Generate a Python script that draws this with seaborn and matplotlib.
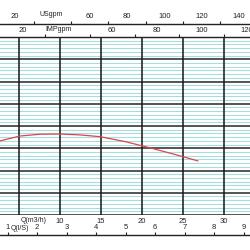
import matplotlib
matplotlib.use("Agg")
import matplotlib.pyplot as plt
import seaborn as sns
import pandas as pd
from matplotlib.ticker import FixedLocator, MultipleLocator, FixedFormatter

# ---- data ----
flow_m3h = [2.68, 5.12, 7.56, 10.0, 12.44, 14.88, 17.93, 20.98, 24.02, 26.83]
head = [3.33, 3.55, 3.63, 3.64, 3.60, 3.52, 3.30, 3.02, 2.72, 2.43]

m3h_ticks = [5, 10, 15, 20, 25, 30]
m3h_labels = ["", "10", "15", "20", "25", "30"]
ls_ticks = [1, 2, 3, 4, 5, 6, 7, 8, 9]
ls_labels = ["1", "2", "3", "4", "5", "6", "7", "8", "9"]
us_major = [20, 40, 60, 80, 100, 120, 140]
us_labels = ["20", "", "60", "80", "100", "120", "140"]
us_minor = [30, 50, 70, 90, 110, 130]
imp_major = [20, 40, 60, 80, 100, 120]
imp_labels = ["20", "", "60", "80", "100", "120"]
imp_minor = [30, 50, 70, 90, 110]

US_PER_M3H = 4.403
IMP_PER_M3H = 3.666
M3H_PER_LS = 3.6

sns.set_style("white")
plt.rcParams["font.family"] = ["Liberation Sans", "DejaVu Sans"]

W = H = 250
fig = plt.figure(figsize=(2.5, 2.5), dpi=100)
top_px, bot_px = 37, 215
ax = fig.add_axes([0, (H - bot_px) / H, 1, (bot_px - top_px) / H])

df = pd.DataFrame({"Q": flow_m3h, "H": head})
sns.lineplot(data=df, x="Q", y="H", ax=ax, color="#d9464a", lw=0.9, zorder=5)

px_per = 8.2
x0 = 22 / px_per
ax.set_xlim(x0, x0 + W / px_per)
ax.set_ylim(0, 8)
ax.set_xlabel("")
ax.set_ylabel("")

# grid
ax.yaxis.set_major_locator(MultipleLocator(1))
ax.yaxis.set_minor_locator(MultipleLocator(1 / 6))
ax.xaxis.set_major_locator(FixedLocator(m3h_ticks))
ax.xaxis.set_major_formatter(FixedFormatter(m3h_labels))
ax.grid(which="minor", axis="y", color="#a9dcdc", lw=0.8, ls="-")
ax.grid(which="major", axis="y", color="#262626", lw=1.1, ls="-")
ax.grid(which="major", axis="x", color="#161616", lw=1.1, ls="-")
ax.tick_params(axis="y", which="both", left=False, labelleft=False)
ax.tick_params(axis="x", which="major", length=0, pad=2, labelsize=5.5,
               colors="#222222")
for s in ["left", "right", "bottom"]:
    ax.spines[s].set_visible(False)
ax.spines["top"].set_color("#222222")
ax.spines["top"].set_linewidth(1.0)
ax.set_axisbelow(True)
ax.yaxis.set_zorder(0.5)
ax.xaxis.set_zorder(0.7)

span = bot_px - top_px

# IMPgpm axis (top of grid)
imp = ax.secondary_xaxis("top", functions=(lambda q: q * IMP_PER_M3H,
                                            lambda g: g / IMP_PER_M3H))
imp.xaxis.set_major_locator(FixedLocator(imp_major))
imp.xaxis.set_major_formatter(FixedFormatter(imp_labels))
imp.xaxis.set_minor_locator(FixedLocator(imp_minor))
imp.tick_params(which="major", length=0, pad=2.5, labelsize=5.5, colors="#222222")
imp.tick_params(which="minor", length=2.3, width=0.8, direction="out", colors="#222222")
imp.spines["top"].set_visible(False)

# USgpm axis
us = ax.secondary_xaxis((bot_px - 24) / span,
                        functions=(lambda q: q * US_PER_M3H,
                                   lambda g: g / US_PER_M3H))
us.xaxis.set_major_locator(FixedLocator(us_major))
us.xaxis.set_major_formatter(FixedFormatter(us_labels))
us.xaxis.set_minor_locator(FixedLocator(us_minor))
us.tick_params(which="major", length=0, pad=3, labelsize=5.5, colors="#222222")
us.tick_params(which="minor", length=2.3, width=0.8, direction="out", colors="#222222")
us.spines["top"].set_linewidth(1.0)
us.spines["top"].set_color("#222222")

# Q (l/s) axis
ls = ax.secondary_xaxis((bot_px - 235) / span,
                        functions=(lambda q: q / M3H_PER_LS,
                                   lambda v: v * M3H_PER_LS))
ls.set_alignment("top")
ls.xaxis.set_major_locator(FixedLocator(ls_ticks))
ls.xaxis.set_major_formatter(FixedFormatter(ls_labels))
ls.tick_params(which="major", length=2.3, width=0.8, pad=0.8, direction="out",
               labelsize=5.5, colors="#222222")
ls.spines["top"].set_linewidth(1.0)
ls.spines["top"].set_color("#222222")

# axis names
def ftext(xp, yp, s):
    fig.text(xp / W, 1 - yp / H, s, ha="center", va="center", fontsize=5,
             color="#222222")

ftext(51, 14, "USgpm")
ftext(58, 29.5, "IMPgpm")
ftext(34, 221, "Q(m3/h)")
ftext(20, 228.5, "Q(l/S)")

fig.savefig("out.png", dpi=100)
